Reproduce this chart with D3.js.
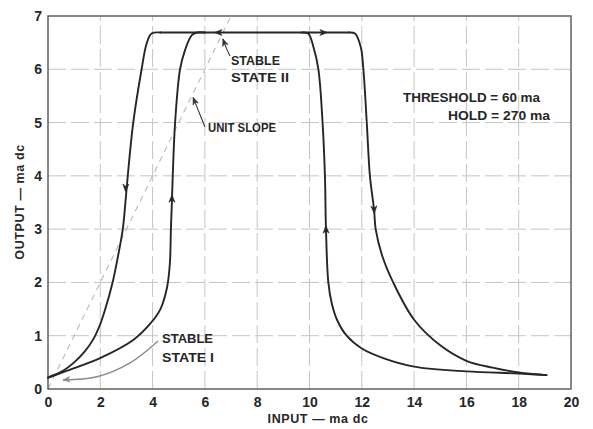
<!DOCTYPE html>
<html>
<head>
<meta charset="utf-8">
<script src="https://cdn.jsdelivr.net/npm/d3@7"></script>
<style>
  html, body { margin: 0; padding: 0; background: #fff; }
  svg { display: block; font-family: "Liberation Sans", Arial, sans-serif; font-weight: bold; }
</style>
</head>
<body>
<svg id="chart" width="593" height="429"></svg>
<script>
// ---------- data ----------
const xTicks = [0, 2, 4, 6, 8, 10, 12, 14, 16, 18, 20];
const yTicks = [0, 1, 2, 3, 4, 5, 6, 7];
const xTitle = "INPUT \u2014 ma dc";
const yTitle = "OUTPUT \u2014 ma dc";

// unit slope reference (output = input)
const unitSlope = [[0, 0], [7, 7]];

// plateau (stable state II)
const plateau = [[4.3, 6.69], [11.5, 6.69]];

// left outer branch: decreasing input, falls from plateau
const branchLeftDown = [[4.3, 6.69], [3.96, 6.67], [3.77, 6.48], [3.58, 6.0], [3.26, 5.0],
  [3.05, 4.0], [2.96, 3.5], [2.86, 3.0], [2.68, 2.5], [2.47, 2.0], [2.19, 1.5], [2.0, 1.22],
  [1.75, 0.95], [1.4, 0.7], [1.0, 0.5], [0.5, 0.32], [0.0, 0.22]];

// left inner branch: increasing input, stable state I then jump up
const branchLeftUp = [[0.0, 0.21], [0.71, 0.34], [1.99, 0.58], [3.26, 0.92], [3.9, 1.22],
  [4.3, 1.5], [4.55, 1.9], [4.66, 2.35], [4.70, 3.0], [4.73, 3.4], [4.77, 4.0],
  [4.86, 5.0], [5.05, 6.0], [5.24, 6.36], [5.5, 6.64], [5.7, 6.69], [6.0, 6.69]];

// right inner branch: decreasing input, jump up to plateau
const branchRightUp = [[19.05, 0.26], [18.0, 0.29], [16.0, 0.33], [14.0, 0.42], [12.82, 0.58],
  [12.0, 0.76], [11.42, 1.0], [11.06, 1.29], [10.85, 1.61], [10.72, 2.0], [10.63, 3.0],
  [10.59, 4.0], [10.5, 5.0], [10.34, 6.0], [10.15, 6.42], [9.95, 6.67], [9.7, 6.69]];

// right outer branch: increasing input, falls from plateau
const branchRightDown = [[11.5, 6.69], [11.74, 6.67], [11.96, 6.42], [12.06, 6.0], [12.19, 5.0],
  [12.31, 4.0], [12.47, 3.36], [12.53, 3.0], [12.78, 2.5], [13.2, 2.0], [14.0, 1.3],
  [15.0, 0.82], [16.0, 0.53], [17.0, 0.4], [18.0, 0.31], [19.07, 0.26]];

// direction arrows on the curves: point and a second point giving direction
const arrowMarks = [
  [2.97, 3.77, 2.93, 3.3],
  [4.74, 3.58, 4.76, 4.0],
  [10.63, 3.0, 10.61, 3.5],
  [12.47, 3.36, 12.51, 3.0],
  [6.5, 6.69, 6.0, 6.69],
  [10.55, 6.69, 11.0, 6.69]
];

// ---------- layout ----------
const W = 593, H = 429;
const M = { left: 48, right: 22, top: 16, bottom: 40 };
const svg = d3.select("#chart");

const x = d3.scaleLinear().domain([0, 20]).range([M.left, W - M.right]);
const y = d3.scaleLinear().domain([0, 7]).range([H - M.bottom, M.top]);

const ink = "#262626";

// grid
const grid = svg.append("g").attr("stroke", "#c4c4c4").attr("stroke-width", 1)
  .attr("stroke-dasharray", "18,5");
grid.selectAll(".gv").data(xTicks.slice(1, -1)).join("line")
  .attr("x1", d => x(d)).attr("x2", d => x(d))
  .attr("y1", y(0)).attr("y2", y(7));
grid.selectAll(".gh").data(yTicks.slice(1, -1)).join("line")
  .attr("x1", x(0)).attr("x2", x(20))
  .attr("y1", d => y(d)).attr("y2", d => y(d));

// unit slope
svg.append("path").datum(unitSlope)
  .attr("d", d3.line().x(d => x(d[0])).y(d => y(d[1])))
  .attr("fill", "none").attr("stroke", "#b8b8b8").attr("stroke-width", 1.1)
  .attr("stroke-dasharray", "6,5");

// frame
svg.append("rect").attr("x", x(0)).attr("y", y(7))
  .attr("width", x(20) - x(0)).attr("height", y(0) - y(7))
  .attr("fill", "none").attr("stroke", "#555").attr("stroke-width", 1.4);

// axes
const xAxis = svg.append("g").attr("transform", `translate(0,${y(0)})`)
  .call(d3.axisBottom(x).tickValues(xTicks).tickSize(0).tickPadding(8).tickFormat(d3.format("d")));
const yAxis = svg.append("g").attr("transform", `translate(${x(0)},0)`)
  .call(d3.axisLeft(y).tickValues(yTicks).tickSize(0).tickPadding(6).tickFormat(d3.format("d")));
[xAxis, yAxis].forEach(a => {
  a.select(".domain").remove();
  a.selectAll("text").attr("font-family", "'Liberation Sans', Arial, sans-serif")
    .attr("font-weight", "bold").attr("font-size", 14).attr("fill", ink);
});

// axis titles
svg.append("text").attr("x", 318).attr("y", 423).attr("text-anchor", "middle")
  .attr("font-size", 12.5).attr("fill", ink).attr("letter-spacing", 0.6).text(xTitle);
svg.append("text").attr("transform", "translate(24,202) rotate(-90)").attr("text-anchor", "middle")
  .attr("font-size", 12.5).attr("fill", ink).attr("letter-spacing", 0.6).text(yTitle);

// curves
const line = d3.line().x(d => x(d[0])).y(d => y(d[1])).curve(d3.curveCatmullRom.alpha(0.5));
const curves = [plateau, branchLeftDown, branchLeftUp, branchRightUp, branchRightDown];
svg.append("g").selectAll("path").data(curves).join("path")
  .attr("d", line).attr("fill", "none").attr("stroke", ink).attr("stroke-width", 1.9)
  .attr("stroke-linejoin", "round").attr("stroke-linecap", "round");

// arrowheads
function arrowHead(g, px, py, angle, len, half, color) {
  g.append("path")
    .attr("d", `M0,0 L${-len},${-half} L${-len * 0.7},0 L${-len},${half} Z`)
    .attr("transform", `translate(${px},${py}) rotate(${angle})`)
    .attr("fill", color).attr("stroke", color).attr("stroke-width", 0.6);
}
const ag = svg.append("g");
arrowMarks.forEach(a => {
  const px = x(a[0]), py = y(a[1]);
  const ang = Math.atan2(y(a[3]) - py, x(a[2]) - px) * 180 / Math.PI;
  arrowHead(ag, px + 3.5 * Math.cos(ang * Math.PI / 180), py + 3.5 * Math.sin(ang * Math.PI / 180), ang, 7.5, 3, ink);
});

// annotations
const leaderLine = d3.line().x(d => x(d[0])).y(d => y(d[1])).curve(d3.curveCatmullRom.alpha(0.5));
const leaders = [
  { pts: [[6.96, 6.25], [6.8, 6.42], [6.69, 6.57]], color: "#333", w: 1.1 },
  { pts: [[6.0, 4.92], [5.77, 5.2], [5.55, 5.47]], color: "#333", w: 1.1 },
  { pts: [[4.21, 0.9], [3.14, 0.49], [1.87, 0.23], [0.57, 0.17]], color: "#8a8a8a", w: 1.4 }
];
const lg = svg.append("g");
leaders.forEach(l => {
  lg.append("path").datum(l.pts).attr("d", leaderLine).attr("fill", "none")
    .attr("stroke", l.color).attr("stroke-width", l.w);
  const n = l.pts.length;
  const p1 = l.pts[n - 2], p2 = l.pts[n - 1];
  const ang = Math.atan2(y(p2[1]) - y(p1[1]), x(p2[0]) - x(p1[0])) * 180 / Math.PI;
  arrowHead(lg, x(p2[0]), y(p2[1]), ang, 7, 2.8, l.color);
});

const labels = [
  { t: "STABLE", x: 231, y: 65, w: 49, s: 13 },
  { t: "STATE II", x: 231, y: 82, w: 58, s: 13 },
  { t: "UNIT SLOPE", x: 208, y: 132, w: 68, s: 12.5 },
  { t: "THRESHOLD = 60 ma", x: 403, y: 102, w: 137, s: 12.5 },
  { t: "HOLD = 270 ma", x: 448, y: 120, w: 102, s: 12.5 },
  { t: "STABLE", x: 162, y: 343, w: 51, s: 13 },
  { t: "STATE I", x: 162, y: 362, w: 52, s: 13 }
];
svg.append("g").selectAll("text").data(labels).join("text")
  .attr("x", d => d.x).attr("y", d => d.y).attr("text-anchor", "start")
  .attr("font-size", d => d.s).attr("fill", ink)
  .attr("textLength", d => d.w).attr("lengthAdjust", "spacingAndGlyphs")
  .text(d => d.t);
</script>
</body>
</html>
